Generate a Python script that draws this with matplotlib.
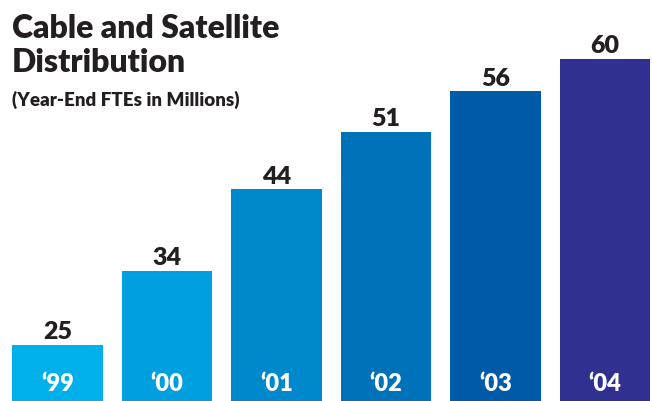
import matplotlib
matplotlib.use('Agg')
import matplotlib.pyplot as plt
import matplotlib.transforms as mtransforms

years = ["\u201899", "\u201800", "\u201801", "\u201802", "\u201803", "\u201804"]
values = [25, 34, 44, 51, 56, 60]
colors = ["#00b0ea", "#00a0e0", "#0088cc", "#0072ba", "#005aa8", "#303090"]

plt.rcParams['font.family'] = ['Lato', 'DejaVu Sans']
dark = "#231f20"

fig = plt.figure(figsize=(6.52, 4.02), dpi=100)
ax = fig.add_axes([0, 0, 1, 1])
x = range(len(values))
bars = ax.bar(x, values, width=0.83, color=colors, bottom=0)
ax.set_xlim(-0.525, -0.525 + 652 / 109.5)
ax.set_ylim(18.1, 18.1 + 402 / 8.17)
ax.axis('off')

for i, v in enumerate(values):
    ax.annotate(str(v), (i, v), xytext=(0, 2), textcoords='offset points',
                ha='center', va='bottom', fontsize=18, fontweight='heavy', color=dark)

trans = mtransforms.blended_transform_factory(ax.transData, ax.transAxes)
for i, lab in enumerate(years):
    ax.text(i, 0.045, lab, transform=trans, ha='center', va='center',
            fontsize=17, fontweight='heavy', color='white')

fig.text(0.018, 0.965, "Cable and Satellite\nDistribution", ha='left', va='top',
         fontsize=23, fontweight='heavy', color=dark, linespacing=1.2)
fig.text(0.018, 0.775, "(Year-End FTEs in Millions)", ha='left', va='top',
         fontsize=13.5, fontweight='heavy', color=dark)

fig.savefig('out.png', dpi=100)
